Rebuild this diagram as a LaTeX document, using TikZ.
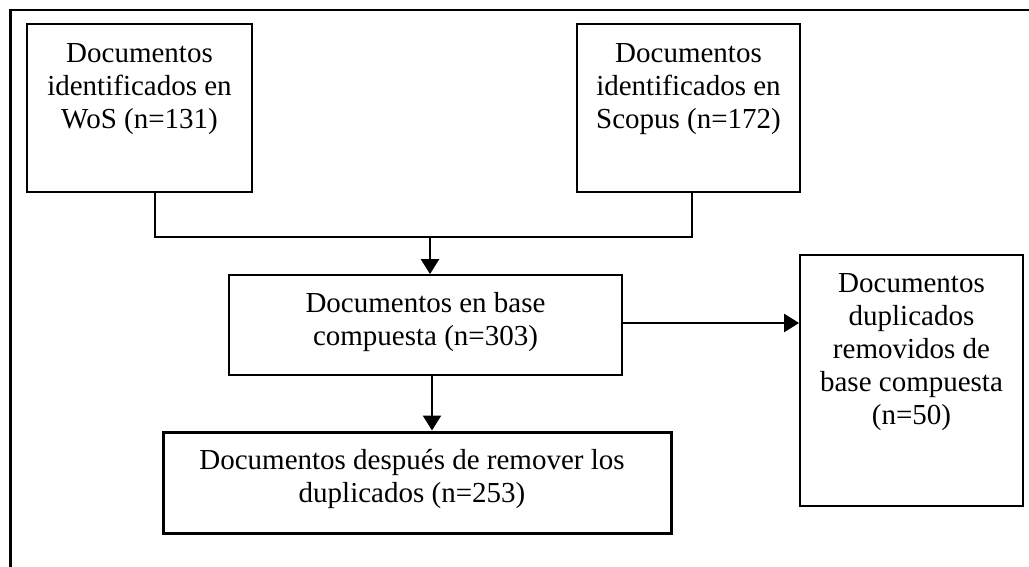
\documentclass[tikz,border=0pt]{standalone}
\usepackage{fontspec}
\setmainfont{Liberation Serif}
\usetikzlibrary{arrows.meta}
\newcommand{\fl}{\rule{0pt}{22pt}}
\begin{document}
\begin{tikzpicture}[x=1pt,y=-1pt,
  box/.style={draw,line width=1.8pt,inner sep=0,minimum width=#1},
  txt/.style={inner sep=0,anchor=north,align=center,font=\fontsize{29}{33}\selectfont},
  conn/.style={line width=2.4pt},
  arr/.style={line width=2.4pt,-{Triangle[length=15pt,width=18pt]}}]
\useasboundingbox (0,0) rectangle (1029,567);
% outer frame
\draw[line width=2.4pt] (10.5,567) -- (10.5,10) -- (1029,10);
% boxes
\node[box=225pt,minimum height=168pt] (wos) at (139.5,108) {};
\node[box=223pt,minimum height=168pt] (scopus) at (688.5,108) {};
\node[box=393pt,minimum height=100pt] (comb) at (425.5,325) {};
\node[box=508pt,minimum height=101pt,line width=3pt] (fin) at (417,482.5) {};
\node[box=223pt,minimum height=251pt] (dup) at (911.5,380.5) {};
% texts
\node[txt] (twos) at (139.5,40) {\fl Documentos\\identificados en\\WoS (n=131)};
\node[txt] (tscopus) at (688.5,40) {\fl Documentos\\identificados en\\Scopus (n=172)};
\node[txt] (tcomb) at (425.5,290) {\fl Documentos en base\\compuesta (n=303)};
\node[txt] (tfin) at (412,447) {\fl Documentos después de remover los\\duplicados (n=253)};
\node[txt] (tdup) at (911.5,270) {\fl Documentos\\duplicados\\removidos de\\base compuesta\\(n=50)};
% connectors
\coordinate (j1) at (155,237);
\coordinate (j2) at (692,237);
\coordinate (jm) at (430,237);
\coordinate (jd) at (432,0);
\coordinate (jr) at (0,323);
\draw[conn] (wos.south -| j1) -- (j1) -- (j2) -- (scopus.south -| j2);
\draw[arr] (jm) -- (comb.north -| jm);
\draw[arr] (comb.south -| jd) -- (fin.north -| jd);
\draw[arr] (comb.east |- jr) -- (dup.west |- jr);
\end{tikzpicture}
\end{document}
